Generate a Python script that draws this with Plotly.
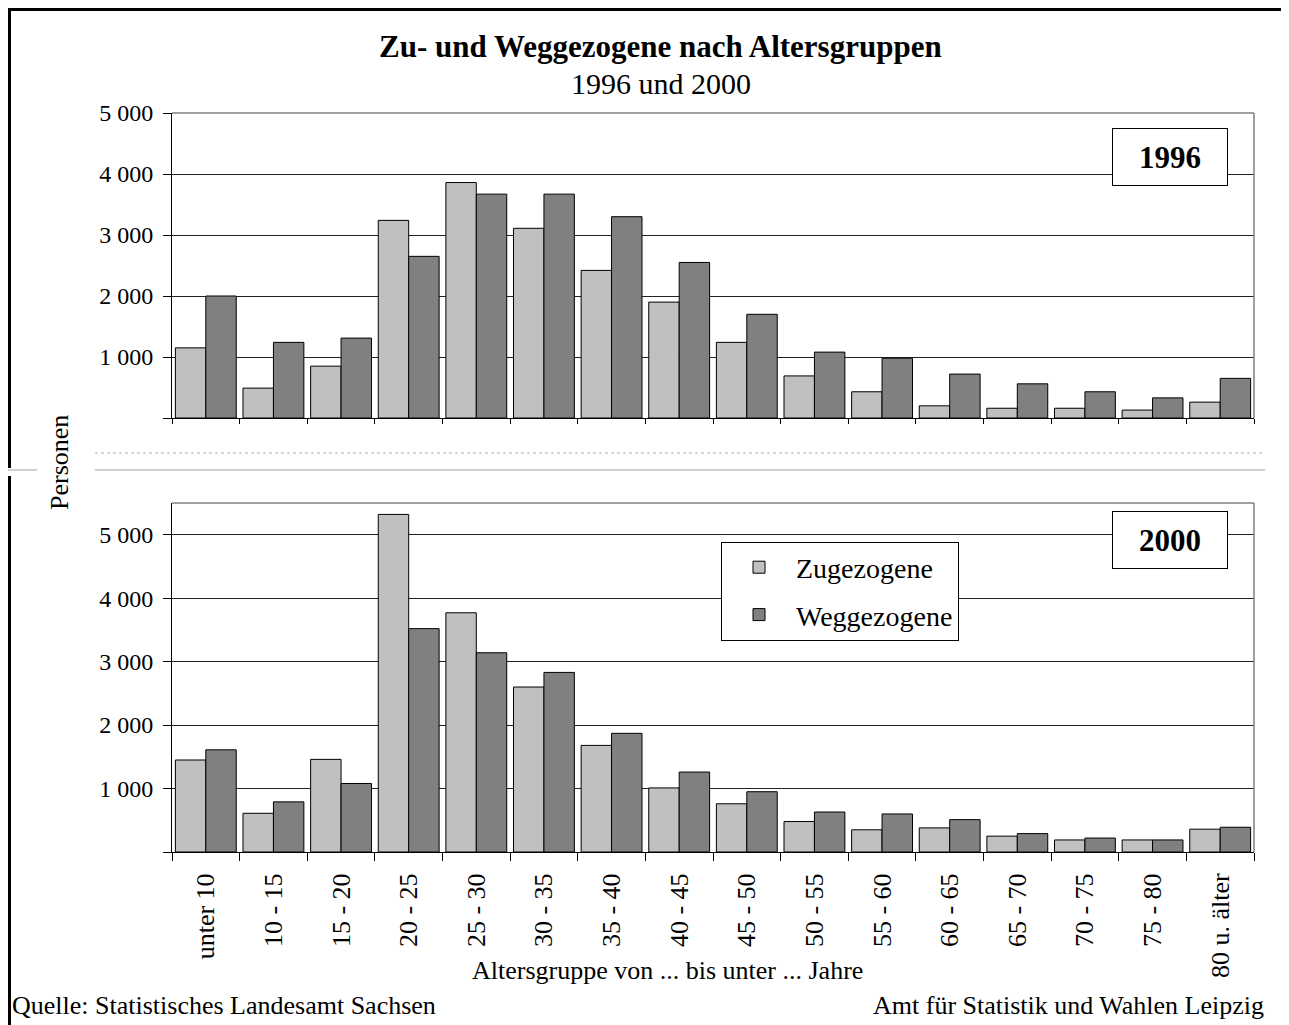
import plotly.graph_objects as go

# Altersgruppen (x categories)
groups = ["unter 10", "10 - 15", "15 - 20", "20 - 25", "25 - 30", "30 - 35", "35 - 40", "40 - 45",
          "45 - 50", "50 - 55", "55 - 60", "60 - 65", "65 - 70", "70 - 75", "75 - 80", "80 u. älter"]

# 1996 values
zu_1996 = [1150, 490, 850, 3240, 3860, 3110, 2420, 1900, 1240, 690, 430, 200, 160, 160, 130, 260]
weg_1996 = [2000, 1240, 1310, 2650, 3670, 3670, 3300, 2550, 1700, 1080, 980, 720, 560, 430, 330, 650]

# 2000 values
zu_2000 = [1450, 610, 1460, 5320, 3770, 2600, 1680, 1010, 760, 480, 350, 380, 250, 190, 190, 360]
weg_2000 = [1610, 790, 1080, 3520, 3140, 2830, 1870, 1260, 950, 630, 600, 510, 290, 220, 190, 390]

y_ticks = [0, 1000, 2000, 3000, 4000, 5000]
y_ticktext = ["", "1 000", "2 000", "3 000", "4 000", "5 000"]

W, H = 1289, 1025
OFF = 8  # the page body adds an 8px margin, shift everything back by that
FONT = "Liberation Serif, Times New Roman, serif"
zu_color = "#C0C0C0"
weg_color = "#808080"


def px(x):
    return (x - OFF) / W


def py(y):
    return 1 - (y - OFF) / H


fig = go.Figure()

# top panel (1996)
fig.add_trace(go.Bar(x=groups, y=zu_1996, name="Zugezogene", marker=dict(color=zu_color, line=dict(color="black", width=1)),
                     xaxis="x", yaxis="y", showlegend=False, legendgroup="zu"))
fig.add_trace(go.Bar(x=groups, y=weg_1996, name="Weggezogene", marker=dict(color=weg_color, line=dict(color="black", width=1)),
                     xaxis="x", yaxis="y", showlegend=False, legendgroup="weg"))

# bottom panel (2000)
fig.add_trace(go.Bar(x=groups, y=zu_2000, name="Zugezogene", marker=dict(color=zu_color, line=dict(color="black", width=1)),
                     xaxis="x2", yaxis="y2", legendgroup="zu"))
fig.add_trace(go.Bar(x=groups, y=weg_2000, name="Weggezogene", marker=dict(color=weg_color, line=dict(color="black", width=1)),
                     xaxis="x2", yaxis="y2", legendgroup="weg"))

x_dom = [px(172), px(1254)]
common_x = dict(domain=x_dom, type="category", showline=True, linecolor="black", linewidth=1,
                ticks="outside", tickson="boundaries", tickcolor="black", showgrid=False, automargin=False,
                tickfont=dict(family=FONT, size=26, color="black"))
common_y = dict(showline=True, linecolor="black", linewidth=1, ticks="outside", ticklen=8, tickcolor="black",
                showgrid=True, gridcolor="#222222", gridwidth=1, zeroline=False, automargin=False,
                tickvals=y_ticks, ticktext=y_ticktext, ticklabelstandoff=5,
                tickfont=dict(family=FONT, size=24, color="black"))

fig.update_layout(
    width=W, height=H, autosize=False,
    margin=dict(l=0, r=0, t=0, b=0, autoexpand=False),
    paper_bgcolor="white", plot_bgcolor="white",
    barmode="group", bargap=0.1, bargroupgap=0,
    xaxis=dict(common_x, anchor="y", showticklabels=False, ticklen=5),
    yaxis=dict(common_y, domain=[py(418), py(113)], anchor="x", range=[0, 5000]),
    xaxis2=dict(common_x, anchor="y2", ticklen=8, tickangle=-90, ticklabelstandoff=10),
    yaxis2=dict(common_y, domain=[py(852), py(503)], anchor="x2", range=[0, 5500]),
    legend=dict(x=px(721), y=py(591), xanchor="left", yanchor="middle",
                bordercolor="black", borderwidth=1, bgcolor="white",
                font=dict(family=FONT, size=28, color="black"),
                traceorder="grouped", tracegroupgap=8, itemwidth=64),
    font=dict(family=FONT, color="black"),
)

# plot frame (top and right edges in grey)
frame = []
for ax in ["", "2"]:
    frame.append(dict(type="line", xref=f"x{ax} domain", yref=f"y{ax} domain", x0=0, x1=1, y0=1, y1=1,
                      line=dict(color="#808080", width=1.5), layer="above"))
    frame.append(dict(type="line", xref=f"x{ax} domain", yref=f"y{ax} domain", x0=1, x1=1, y0=0, y1=1,
                      line=dict(color="#808080", width=1.5), layer="above"))

# page border and separator lines from the source document (kept just inside the drawable area)
edge_x = 1.5 / W
edge_y = 1 - 1.5 / H
frame += [
    dict(type="line", xref="paper", yref="paper", x0=0, x1=1, y0=edge_y, y1=edge_y,
         line=dict(color="black", width=3)),
    dict(type="line", xref="paper", yref="paper", x0=edge_x, x1=edge_x, y0=1, y1=py(468),
         line=dict(color="black", width=3)),
    dict(type="line", xref="paper", yref="paper", x0=edge_x, x1=edge_x, y0=py(476), y1=0,
         line=dict(color="black", width=3)),
    dict(type="line", xref="paper", yref="paper", x0=0, x1=px(37), y0=py(470), y1=py(470),
         line=dict(color="#A0A0A0", width=1)),
    dict(type="line", xref="paper", yref="paper", x0=px(95), x1=px(1265), y0=py(470), y1=py(470),
         line=dict(color="#A0A0A0", width=1)),
    dict(type="line", xref="paper", yref="paper", x0=px(95), x1=px(1265), y0=py(453), y1=py(453),
         line=dict(color="#B0B0B0", width=1, dash="dot")),
]
fig.update_layout(shapes=frame)

annotations = [
    dict(text="<b>Zu- und Weggezogene nach Altersgruppen</b>", x=px(660), y=py(46), font=dict(size=31)),
    dict(text="1996 und 2000", x=px(661), y=py(84), font=dict(size=30)),
    dict(text="<b>1996</b>", x=px(1170), y=py(156.5), font=dict(size=31), bordercolor="black", borderwidth=1,
         bgcolor="white", width=112, height=54, borderpad=1),
    dict(text="<b>2000</b>", x=px(1170), y=py(539.5), font=dict(size=31), bordercolor="black", borderwidth=1,
         bgcolor="white", width=112, height=54, borderpad=1),
    dict(text="Personen", x=px(60), y=py(463), textangle=-90, font=dict(size=26)),
    dict(text="Altersgruppe von ... bis unter ... Jahre", x=px(667), y=py(970), font=dict(size=26)),
    dict(text="Quelle: Statistisches Landesamt Sachsen", x=px(10), y=py(1005), xanchor="left", font=dict(size=26)),
    dict(text="Amt für Statistik und Wahlen Leipzig", x=px(1266), y=py(1005), xanchor="right", font=dict(size=26)),
]
for a in annotations:
    a.setdefault("xanchor", "center")
    a.update(xref="paper", yref="paper", yanchor="middle", showarrow=False)
    a["font"] = dict(family=FONT, color="black", **a["font"])
fig.update_layout(annotations=annotations)

fig.write_html("out.html")
